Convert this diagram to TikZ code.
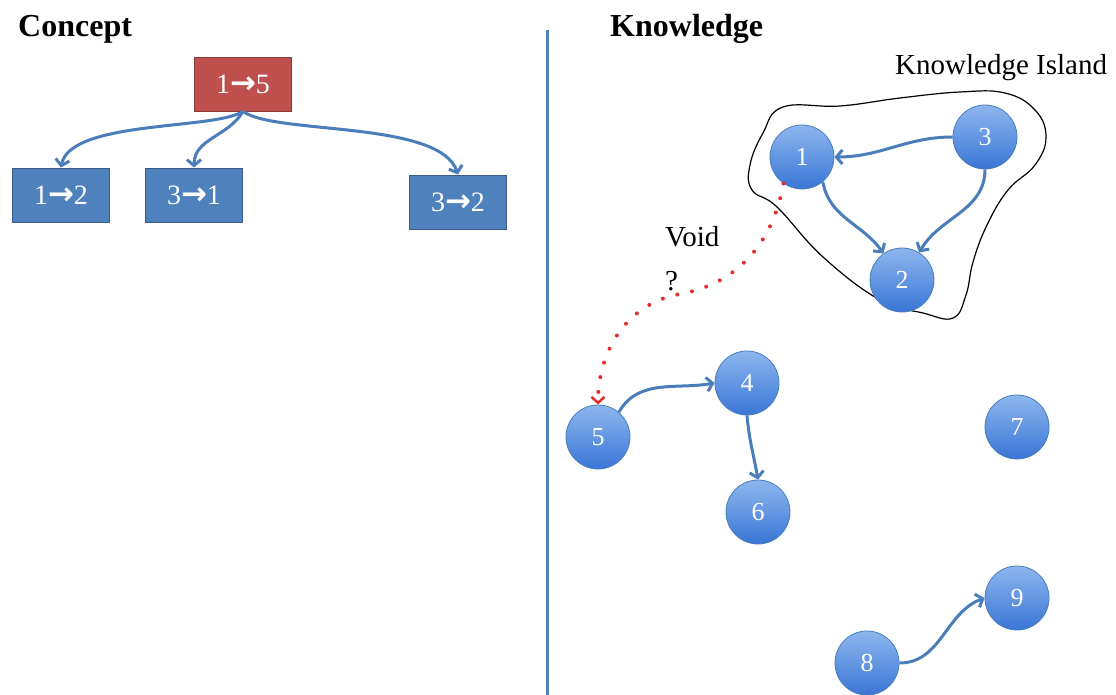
\documentclass[tikz,border=0pt]{standalone}
\usepackage{fontspec}
\setmainfont{Liberation Serif}
\newfontfamily\arrowfont{DejaVu Sans}
\usetikzlibrary{arrows.meta,positioning}

\definecolor{boxblue}{HTML}{4F81BD}
\definecolor{boxedge}{HTML}{385D8A}
\definecolor{boxred}{HTML}{C0504D}
\definecolor{rededge}{HTML}{8C3836}
\definecolor{linkblue}{HTML}{4A7EBB}
\definecolor{balltop}{HTML}{8DB6EE}
\definecolor{ballbot}{HTML}{3A76D6}
\definecolor{voidred}{HTML}{E52B2B}

\newcommand{\karrow}{{\arrowfont\bfseries\fontsize{31}{31}\selectfont →}}

\begin{document}
\begin{tikzpicture}[x=1pt, y=1pt,
    title/.style={anchor=base west, inner sep=0pt, font=\fontsize{32}{32}\selectfont\bfseries},
    caption/.style={anchor=base west, inner sep=0pt, font=\fontsize{29}{29}\selectfont},
    bluebox/.style={rectangle, fill=boxblue, draw=boxedge, line width=0.8pt, minimum width=97pt, minimum height=54pt, text=white, font=\fontsize{28}{28}\selectfont},
    redbox/.style={bluebox, fill=boxred, draw=rededge},
    ball/.style={circle, minimum size=64pt, inner sep=0pt, draw=linkblue, line width=0.8pt, top color=balltop, bottom color=ballbot, text=white, font=\fontsize{26}{26}\selectfont},
    link/.style={draw=linkblue, line width=3pt, -{Straight Barb[length=6pt, width=14pt]}},
    voidlink/.style={draw=voidred, line width=4pt, line cap=round, dash pattern=on 0pt off 15pt, -{Straight Barb[length=6pt, width=13pt, line width=2.5pt]}},
    island/.style={draw=black, line width=1.2pt}]
    \useasboundingbox (0,0) rectangle (1116,-695);

    \coordinate (divtop) at (547,-30);
    \coordinate (divbot) at (547,-695);
    \draw[boxblue, line width=3pt] (divtop) -- (divbot);

    \node[title] (concept) at (18,-37) {Concept};
    \node[title] (knowledge) at (610,-37) {Knowledge};

    \node[redbox] (c15) at (243,-84) {1\karrow5};
    \node[bluebox] (c12) at (61,-195) {1\karrow2};
    \node[bluebox] (c31) at (194,-195) {3\karrow1};
    \node[bluebox] (c32) at (458,-202) {3\karrow2};

    \draw[link] (c15.south) .. controls (215,-130) and (70,-120) .. (c12.north);
    \draw[link] (c15.south) to[out=240, in=90] (c31.north);
    \draw[link] (c15.south) .. controls (275,-135) and (440,-120) .. (c32.north);

    \draw[island] plot[smooth cycle, tension=0.7] coordinates {
        (783,-107) (840,-106) (900,-98) (960,-92) (1005,-93) (1035,-110)
        (1046,-137) (1035,-165) (1008,-190) (987,-225) (973,-262) (966,-295)
        (953,-318) (923,-313) (880,-300) (823,-257) (777,-207) (752,-190)
        (750,-165) (763,-133)};
    \node[caption] (island) at (895,-75) {Knowledge Island};

    \node[ball] (k1) at (802,-157) {1};
    \node[ball] (k2) at (902,-280) {2};
    \node[ball] (k3) at (985,-137) {3};
    \node[ball] (k4) at (747,-383) {4};
    \node[ball] (k5) at (598,-437) {5};
    \node[ball] (k6) at (758,-512) {6};
    \node[ball] (k7) at (1017,-427) {7};
    \node[ball] (k8) at (867,-663) {8};
    \node[ball] (k9) at (1017,-598) {9};

    \draw[link] (k3.west) to[out=180, in=0] (k1.east);
    \draw[link] (k1.-50) to[out=-80, in=125] (k2.125);
    \draw[link] (k3.south) to[out=-90, in=60] (k2.58);
    \draw[link] (k5.50) to[out=60, in=190] (k4.west);
    \draw[link] (k4.south) to[out=-85, in=100] (k6.north);
    \draw[link] (k8.east) to[out=0, in=200] (k9.west);

    \node[caption] (void) at (665,-247) {Void};
    \node[caption] (query) at (665,-290) {?};
    \coordinate (voidbend) at (680,-294);
    \draw[voidlink] (k1.235) to[out=-100, in=10] (voidbend) to[out=190, in=90] (k5.north);
\end{tikzpicture}
\end{document}
